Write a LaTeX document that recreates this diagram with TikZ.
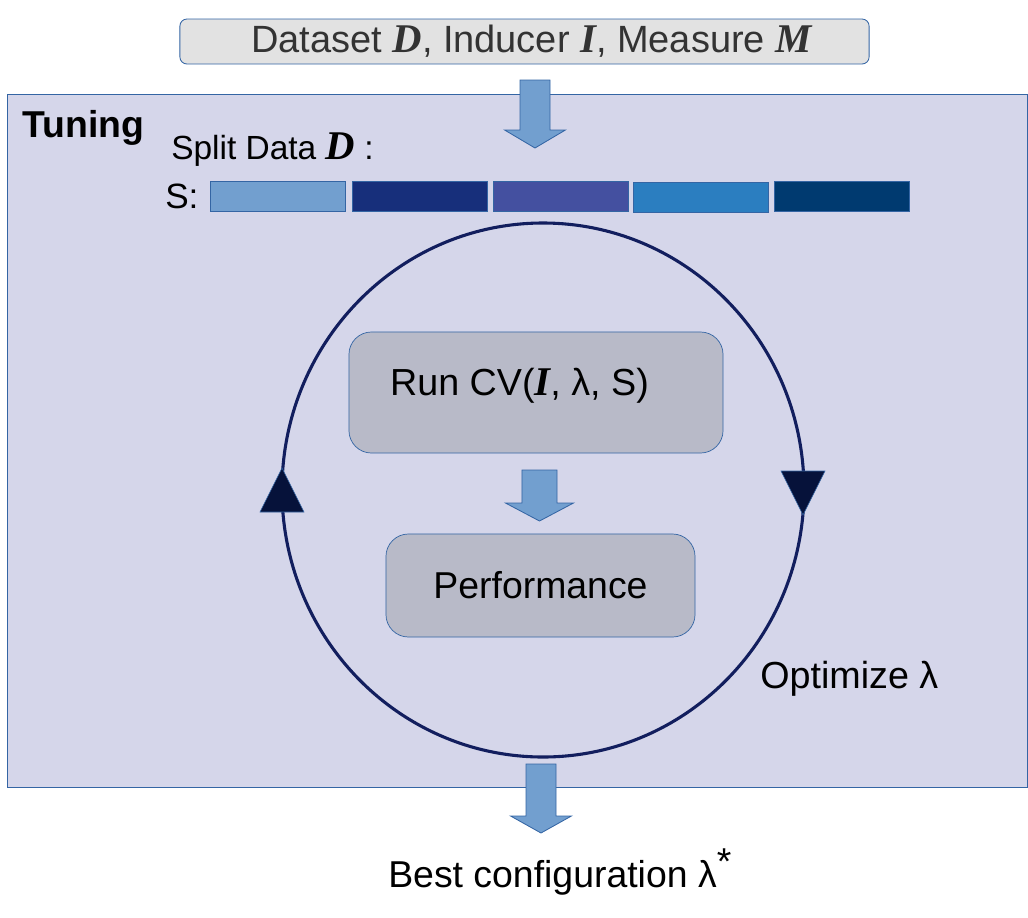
\documentclass[tikz,border=0pt]{standalone}
\usepackage{fontspec}
\setmainfont{Liberation Sans}
\newfontfamily\symfont{Liberation Serif}
\usetikzlibrary{calc}

\definecolor{panelfill}{HTML}{D5D6EA}
\definecolor{edgeblue}{HTML}{3465A4}
\definecolor{topfill}{HTML}{E2E2E2}
\definecolor{boxfill}{HTML}{B8BAC8}
\definecolor{arrowfill}{HTML}{729FCF}
\definecolor{loopnavy}{HTML}{121E5E}
\definecolor{tipnavy}{HTML}{06123A}
\definecolor{foldA}{HTML}{729FCF}
\definecolor{foldB}{HTML}{172F7B}
\definecolor{foldC}{HTML}{4450A0}
\definecolor{foldD}{HTML}{2B7EC0}
\definecolor{foldE}{HTML}{003A70}

% bold italic letters of the data, inducer and measure
\newcommand{\sym}[2][27]{{\fontsize{#1}{#1}\selectfont\symfont\bfseries\itshape #2}}
\newcommand{\textsize}[1]{\fontsize{#1}{#1}\selectfont}

% fat arrow from a named coordinate down to another one
\newcommand{\blockarrow}[5]{%
  \draw[blockarrow] let \p1=(#1), \p2=(#2) in
    (\x1-#3,\y1) -- (\x1+#3,\y1) -- (\x1+#3,\y2+#5) -- (\x1+#4,\y2+#5)
    -- (\x2,\y2) -- (\x1-#4,\y2+#5) -- (\x1-#3,\y2+#5) -- cycle;}

\tikzset{
  blockarrow/.style={fill=arrowfill, draw=edgeblue, line width=0.6pt, line join=miter},
  panel/.style={rectangle, fill=panelfill, draw=edgeblue, line width=0.6pt, inner sep=0pt},
  inputbox/.style={rectangle, rounded corners=5pt, fill=topfill, draw=edgeblue, line width=0.6pt,
    minimum width=17.225cm, minimum height=1.125cm, inner sep=0pt},
  stepbox/.style={rectangle, rounded corners=16pt, fill=boxfill, draw=edgeblue, line width=0.5pt, inner sep=0pt},
  fold/.style={rectangle, draw=edgeblue, line width=0.6pt, minimum width=3.375cm, minimum height=0.75cm, inner sep=0pt},
  looptip/.style={fill=tipnavy, draw=edgeblue, line width=0.4pt, line join=miter},
}

\begin{document}
\begin{tikzpicture}[x=0.025cm, y=-0.025cm]
  \useasboundingbox (0,0) rectangle (1028,917);
  %\draw[lightgray] (0, 0) grid[step=100] (1028, 917);

  \node[inputbox] (input) at (524.5,41.5)
    {\hspace*{0.35cm}\textsize{27}\color[HTML]{333333}Dataset \sym[29]{D}, Inducer \sym[29]{I}, Measure \sym[29]{M}};

  \node[panel, minimum width=25.475cm, minimum height=17.3cm] (tuning) at (517.5,441) {};
  \node[anchor=base west, inner sep=0pt] (tuninglabel) at (22,137) {\textsize{26.6}\bfseries Tuning};
  \node[anchor=base west, inner sep=0pt] (splitlabel) at (171,159) {\textsize{23.8}Split Data \sym[29]{D} :};
  \node[anchor=base west, inner sep=0pt] (slabel) at (165,208) {\textsize{25}S:};

  \node[fold, fill=foldA] (s1) at (277.5,196) {};
  \node[fold, fill=foldB] (s2) at (419.5,196) {};
  \node[fold, fill=foldC] (s3) at (560.5,196) {};
  \node[fold, fill=foldD] (s4) at (700.5,197) {};
  \node[fold, fill=foldE] (s5) at (841.5,196) {};

  \coordinate (a1s) at (535,80);
  \coordinate (a1e) at (535,148);
  \blockarrow{a1s}{a1e}{0.375cm}{0.76cm}{0.45cm}

  % optimisation loop
  \coordinate (centre) at (543,490);
  \draw[loopnavy, line width=2.2pt] (centre) ellipse [x radius=261, y radius=267];
  \draw[looptip] (282,468) -- (304,512) -- (260,512) -- cycle;
  \draw[looptip] (781,471) -- (825,471) -- (803,515) -- cycle;

  \node[stepbox, minimum width=9.35cm, minimum height=3.025cm] (runcv) at (536,392.5) {};
  \node[inner sep=0pt] (runlabel) at (519.5,386) {\textsize{26.8}Run CV(\sym[29]{I}, λ, S)};
  \node[stepbox, minimum width=7.725cm, minimum height=2.575cm] (perf) at (540.5,585.5)
    {\textsize{26.6}Performance};

  \coordinate (a2s) at (539.5,470);
  \coordinate (a2e) at (539.5,521);
  \blockarrow{a2s}{a2e}{0.4375cm}{0.85cm}{0.45cm}

  \node[anchor=base west, inner sep=0pt] (optlabel) at (760,688) {\textsize{26.8}Optimize λ};

  \coordinate (a3s) at (541,764);
  \coordinate (a3e) at (541,833);
  \blockarrow{a3s}{a3e}{0.375cm}{0.76cm}{0.425cm}

  \node[anchor=base west, inner sep=0pt] (best) at (388,887)
    {\textsize{26.6}Best configuration λ\raisebox{9pt}{*}};
\end{tikzpicture}
\end{document}
